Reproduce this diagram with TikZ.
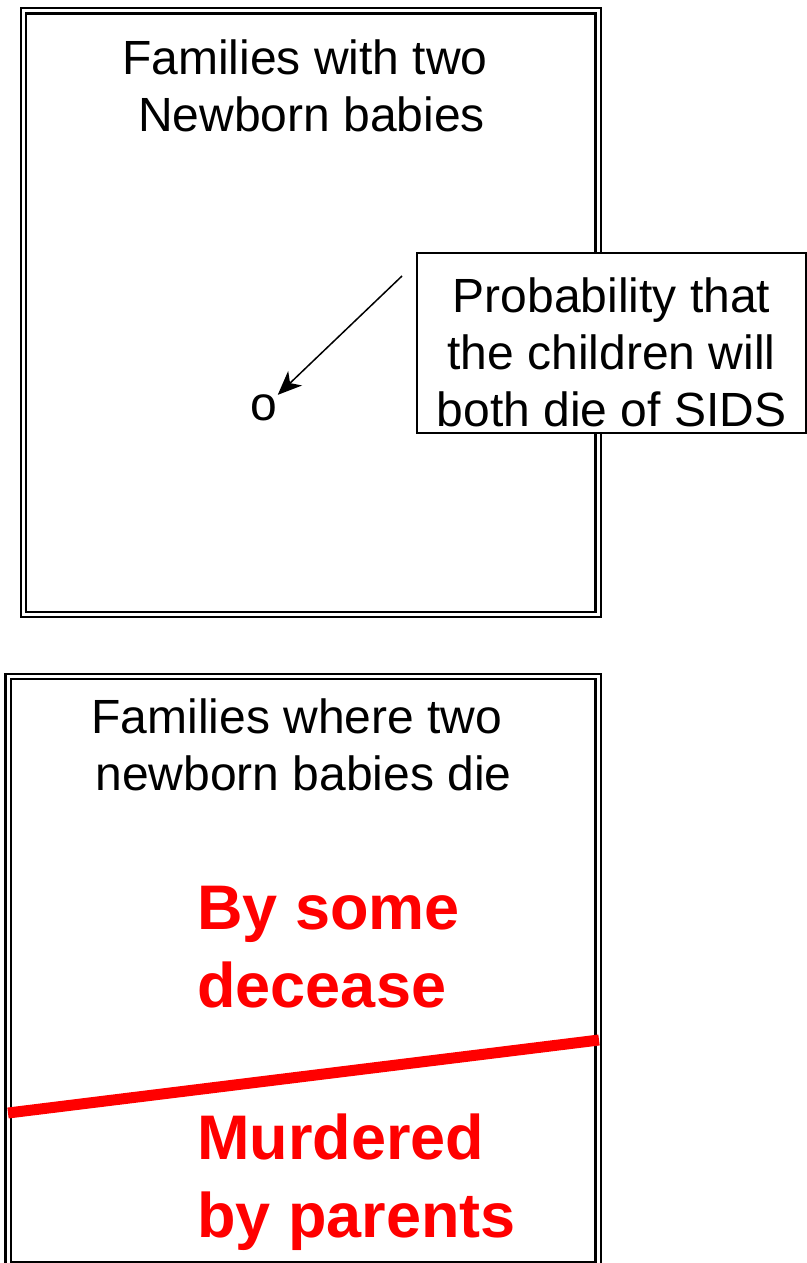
\documentclass[tikz,border=0pt]{standalone}
\usepackage{fontspec}
\setmainfont{Liberation Sans}
\usetikzlibrary{arrows.meta}

\begin{document}
\begin{tikzpicture}[x=0.5pt,y=-0.5pt,>={Stealth[length=12pt,width=10pt,inset=3.5pt]}]
  \tikzstyle{dblbox}=[draw,double,line width=1.1pt,double distance=1.5pt,outer sep=0pt,inner sep=0pt]
  \tikzstyle{plaintext}=[font=\fontsize{24pt}{28.5pt}\selectfont,align=center,inner sep=0pt]
  \tikzstyle{redtext}=[font=\fontsize{31.5pt}{39pt}\selectfont\bfseries,text=red,align=left,inner sep=0pt]
  \useasboundingbox (0,0) rectangle (807,1263);
  \clip (0,0) rectangle (807,1263);
  \node[dblbox,minimum width=287.25pt,minimum height=301.75pt] (babies) at (310.75,312.75) {};
  \node[dblbox,minimum width=295pt,minimum height=294pt] (deaths) at (303,970.5) {};
  \node[plaintext,anchor=base] (babiestitle) at (311.5,132) {Families with two\hspace*{0.278em}\\Newborn babies};
  \node[plaintext,anchor=base] (deathstitle) at (303.5,790) {Families where two\hspace*{0.278em}\\newborn babies die};
  \node[plaintext] (dot) at (264,408) {o};
  \node[draw,fill=white,line width=0.75pt,minimum width=194.5pt,minimum height=90pt] (sids) at (611.5,343) {};
  \node[plaintext,yshift=-4.5pt] (sidstext) at (sids.center) {Probability that\\the children will\\both die of SIDS};
  \coordinate (tail) at (402,276);
  \draw[->,line width=0.75pt] (tail) -- (dot);
  \node[redtext,anchor=base west] (disease) at (197,1007) {By some\\decease};
  \node[redtext,anchor=base west] (murder) at (197,1237) {Murdered\\by parents};
  \draw[red,line width=5.5pt] (8,1113) -- (599,1040);
\end{tikzpicture}
\end{document}
